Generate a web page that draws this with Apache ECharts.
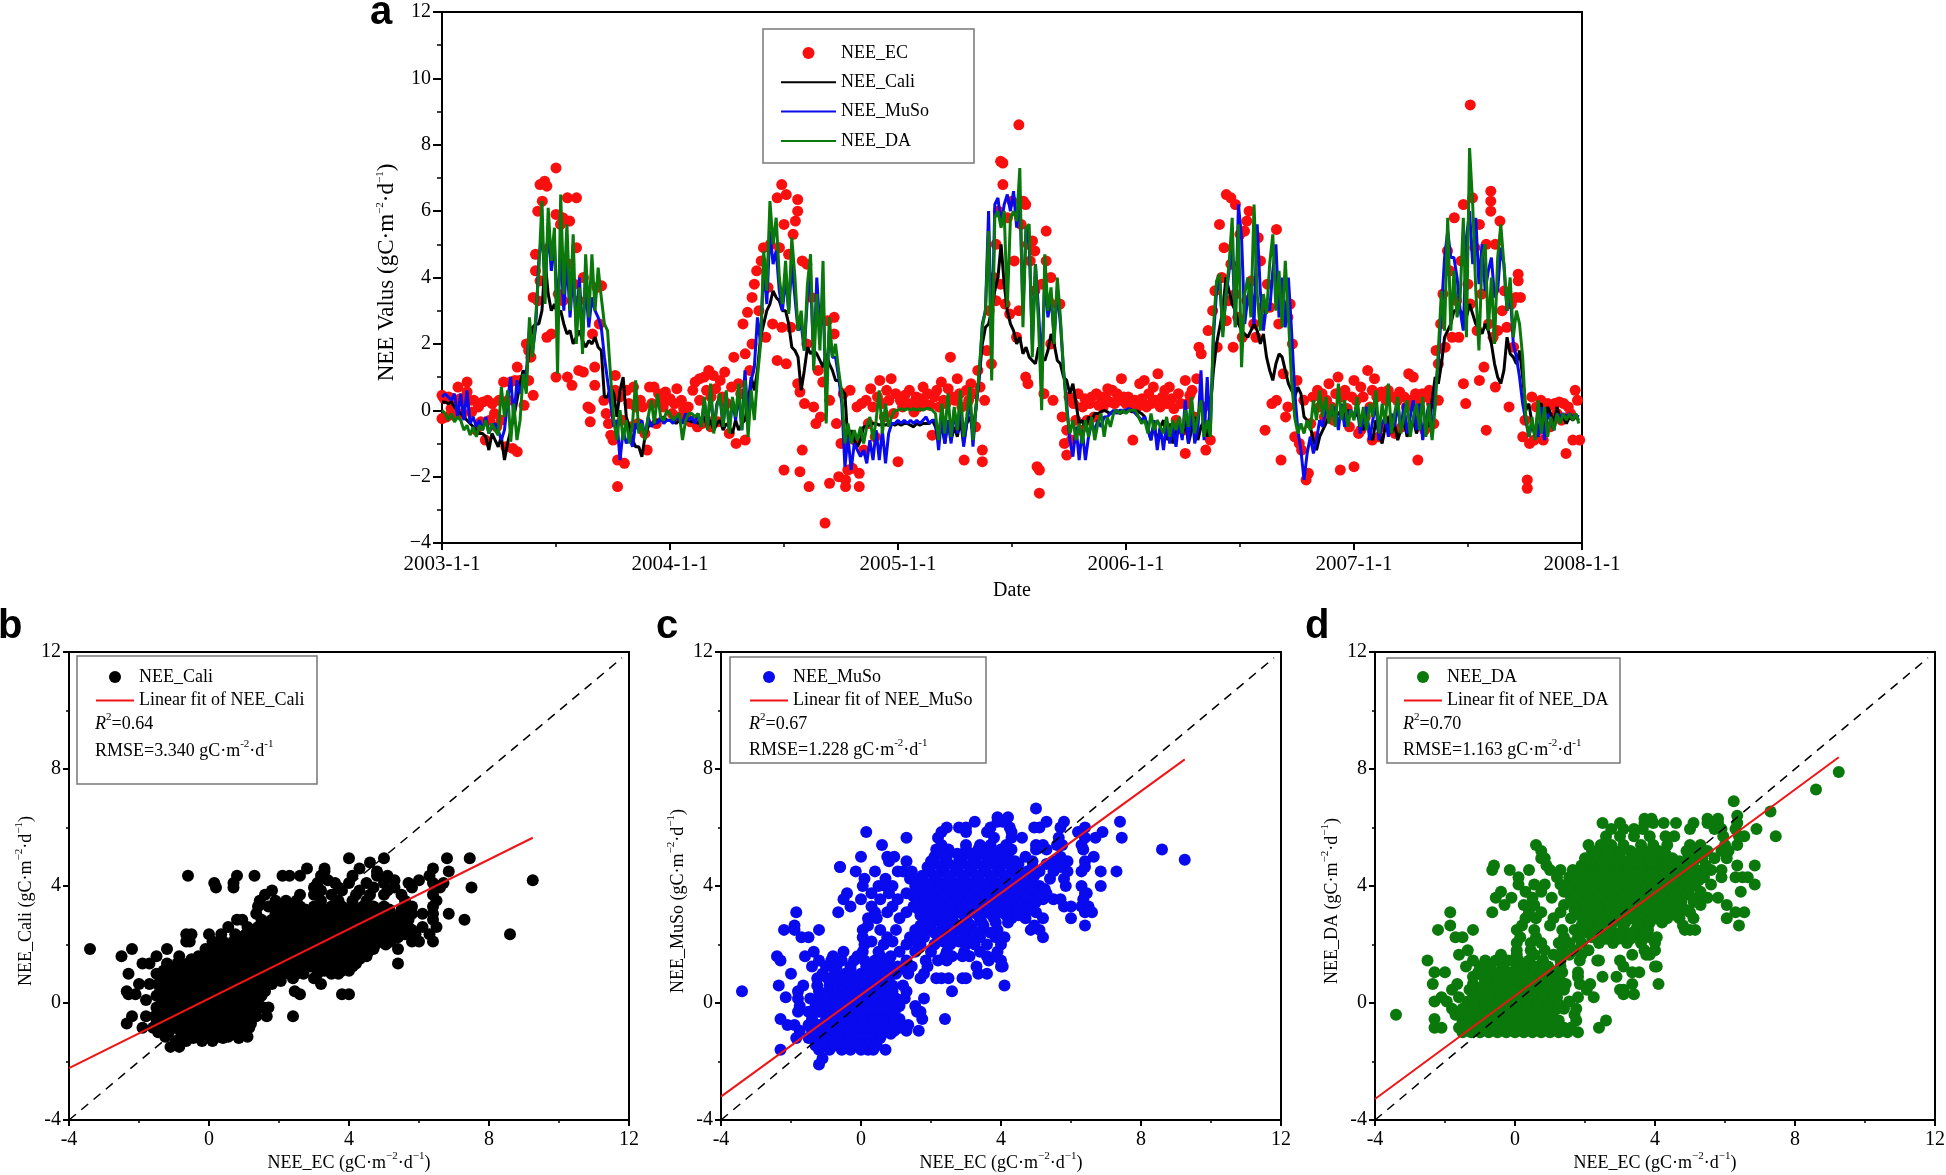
<!DOCTYPE html>
<html><head><meta charset="utf-8">
<script src="https://cdn.jsdelivr.net/npm/echarts@6/dist/echarts.min.js"></script>
<style>html,body{margin:0;background:#fff}#c{width:1946px;height:1175px}</style></head>
<body><div id="c"></div>
<script>
const years=[2003,2004,2005,2006,2007];
const yTicksA=[-4,-2,0,2,4,6,8,10,12];
// five-day readings per year
const cali2003=[.25,.25,.2,.25,.1,0,-.1,-.2,-.3,-.4,-.5,-.6,-.7,-.7,-.8,-1.2,-.7,-.9,-1.1,-.8,-1.5,-1,-.6,-.2,.3,.8,1.2,1,2,2.5,2.6,2.6,3,4.5,3.5,3,3.2,2.9,3,2.6,2.3,2.4,2,2.2,2.4,2.1,1.9,2.1,2,2.2,1.9,1.8,.4,.4,.7,.5,-.2,.6,1,-.2,-.5,-.9,-1.1,-1.1,-1.4,-.8,-.5,-.4,-.4,-.3,-.3,-.2,-.3];
const cali2004=[-.3,-.3,-.4,-.3,-.35,-.3,-.3,-.35,-.3,-.4,-.3,-.2,-.5,-.3,-.6,-.4,-.3,-.6,-.4,-.5,-.7,-.3,-.6,-.4,-.3,.2,1,.6,1.2,2.2,2.6,3,3.2,3.6,3.4,3.3,3,3,2.6,1.9,1.8,1.6,.6,1.2,1.9,1.7,1.8,1.7,1.5,1.3,1.7,1.4,1.2,.9,.9,.6,.5,-1,-.6,-.9,-1.1,-.9,-.5,-.5,-.4,-.4,-.4,-.45,-.4,-.45,-.4,-.4,-.45];
const cali2005=[-.4,-.45,-.4,-.4,-.45,-.5,-.4,-.45,-.4,-.4,-.4,-.3,-.5,-.9,-.4,-1,-.3,-.9,-.5,-.8,-.3,-1,-.4,-.2,-.6,.1,1,2,2.5,2.6,3,3.6,4,5,3.8,3,2.6,2.4,2,2.2,1.7,1.9,1.6,1.5,1.4,1.9,1.6,1.5,1.8,2.3,2,1.5,1.4,1,.9,.5,.8,.2,-.4,-.3,-.6,-.2,-.3,-.1,-.1,-.05,0,-.05,-.1,-.05,0,-.1,-.05];
const cali2006=[-.05,0,-.05,0,-.05,-.1,-.2,-.5,-.9,-.4,-1,-.5,-.3,-.9,-.4,-1,-.6,-.4,-.8,-.3,-1,-.6,-.2,-.9,-.5,-.3,-.8,.1,1.2,2,2.5,3,4,3.6,3.2,3,2.6,2.4,2.3,2.2,2.4,2.6,2.4,2,2.3,1.6,1.2,.9,1.4,1.7,1.6,1.2,.8,.6,.4,.7,.5,-.2,-.3,-.5,-.9,-1.2,-.8,-.6,-.4,-.2,-.1,-.2,-.1,0,-.2,0,-.1];
const cali2007=[-.2,-.1,-.4,-.6,-.2,-.7,-.9,-.3,-.7,-1,-.5,-.2,-.7,-.4,-.9,-.6,-.3,-.8,-.5,-.3,-.7,-.4,-.6,-.3,-.5,.3,1,.8,1.4,2.2,2.4,2.6,3,3,3,2.9,2.8,3.2,2.9,2.6,2.5,2.3,2.6,2.4,2,1.4,1,.8,1.2,2.2,1.7,1.6,1.4,1.8,1,0,.2,-.4,-.8,.1,.2,-.6,.1,-.1,-.4,.1,-.3,-.2,-.4,-.2,-.3,-.2,-.3];
const muso2003=[.4,.5,.4,.3,.5,-.2,.5,-.3,.6,-.4,-.2,-.5,-.3,-.6,-.2,-.7,-.5,-.4,-.6,-.9,-.6,.3,1,-.3,.9,.5,.9,1.1,2.5,1.8,2.5,4.5,5.4,3.8,5.5,4.2,5,3,4.8,3,4.6,2.8,4.2,2.5,4,2.2,3.8,2.5,3.4,3,2.8,2.5,1.6,.9,.2,-.5,-.3,-1.5,-.6,-1,-.8,-1.1,-.4,-.6,-.3,-.8,-.2,-.5,-.3,-.4,-.2,-.4,-.3];
const muso2004=[-.3,-.4,-.2,-.3,-.4,-.1,-.3,-.2,-.4,-.1,-.5,.3,-.5,.6,-.6,.2,.4,-.5,.5,-.6,.3,-.3,.5,-.6,1.2,-.3,.9,1.3,2.8,2,4.4,3.2,5.4,4.4,4.8,3.6,3,4,3,4.4,3.4,2.4,2.6,1.8,3.4,4.1,1.4,4,2.4,3.2,.5,2.4,1.6,1.6,1,.2,-1.7,-.8,-1.8,-1,-1.2,-1.4,-1.2,-1.6,-.9,-1.5,-.6,-1.5,-.6,-1.6,-.7,-.4,-.4];
const muso2005=[-.3,-.4,-.3,-.4,-.3,-.4,-.3,-.4,-.3,-.2,-.4,-.3,-.3,-1.2,-.2,-1,-.3,-1,0,-.7,.3,-1.1,-.4,.4,-1.1,.1,1,2.6,3,6,2,6.2,6.4,5.6,6.2,6.5,6,6.6,5.5,6.5,3,5.5,5,2,4.4,3,1.2,4,2.8,3.4,2.2,3.6,2.6,1.2,.2,-.9,-1.4,-.5,-1.5,-.6,-1.5,-.8,-.4,-.6,-.3,-.5,-.2,-.2,-.1,0,-.1,0,0];
const muso2006=[0,.05,0,-.1,-.2,-.3,-.2,-.6,-.9,-.3,-1.2,-.5,-1.2,-.4,-1,-.5,-1.1,-.3,-.9,.3,-1,.2,-1,-.6,1.2,-.9,1,-.6,2.2,3.6,3.9,2.4,3.4,4.2,5,2.5,6.2,5.2,2.6,3.4,3.8,2.6,5.6,3.6,2.4,3.2,3,4.2,5,2.8,4,2.5,4,2.4,.6,-.6,-1.2,-2.1,-1.3,-.8,-1.3,-.9,-.3,-.5,.1,-.2,-.1,.1,-.6,.2,-.5,-.1,0];
const muso2007=[-.2,.2,-.7,-.2,.1,-.9,-.3,.2,-.9,-.4,-.2,-.8,-.1,-.5,.2,-.6,.2,-.7,-.2,.3,-.6,.2,-.9,-.3,.2,-.8,.5,1.5,3,4.6,5.4,4.6,4.6,4,3,2.4,5.2,6,4.4,5.8,3.8,5,3.6,4.2,4.6,3.4,3.6,4.9,4.4,3,3.6,2,1.6,1,.2,-.3,-.8,-.4,-.6,-.8,.1,-.9,-.1,-.3,-.6,-.1,-.2,-.1,-.2,-.1,-.2,-.15,-.2];
const da2003=[0,-.1,-.3,-.1,-.35,-.2,-.3,-.6,-.45,-.75,-.5,-.8,-.45,-.6,-.3,-.7,-.4,-.6,-.75,.7,-.2,.6,-.95,.2,-.9,-.3,1.1,.5,2.8,1.6,2.8,4.2,6.3,3.2,6.1,4.5,5.5,1.1,6.5,3.5,5.6,3,5.3,2,3.7,1.7,4.7,2.8,4.7,3,4.3,3.4,2.6,2.4,1,-.3,-.9,0,-.9,-.3,-1,-.4,.9,-.7,-.4,-.9,-.2,.3,-.4,.5,-.2,-.3,0];
const da2004=[-.1,-.3,-.2,-.1,-.9,-.3,-.1,-.1,-.2,-.1,-.5,.4,-.6,.8,-.7,.1,.5,-.5,.6,-.7,.4,-.2,.8,-.6,.9,-.8,.6,-.3,1,2,4.8,3.6,6.3,5,5.8,4,3.2,4.5,2.9,5.2,4,2.4,3,1.8,3.8,4.7,1.2,3.5,1.8,4.5,-.4,2.8,1.6,2,1.2,.5,-1,-.4,-1,-.6,-.9,-.5,-1,-.5,-.2,-.9,-.3,.6,-.7,.2,-.5,-.2,0];
const da2005=[0,.05,0,.05,0,.05,0,.05,0,.05,.05,0,-.1,-.9,.2,-.7,.5,-.8,.1,-.6,.6,-.8,-.2,.7,-.9,.1,1.2,2.5,3,5.4,.9,5.8,6,5.5,6,3.1,5.8,6,5.7,7.3,2.5,5.5,5.6,1.6,4.4,2.6,0,4.7,3,3.7,2,4,2.8,1.2,0,-.7,-.3,-.9,-.4,-1,-.3,-.8,-.2,-.9,-.4,-.1,-.8,-.2,-.5,-.1,0,-.1,0];
const da2006=[-.1,0,0,0,-.2,-.4,-.3,-.7,-.1,-.6,-.3,-.5,-.7,-.2,-.8,-.3,-.6,-.2,-.7,0,-.5,.4,-.7,-.2,.3,-.8,-.3,-.8,2.5,3.9,4.1,2.2,3.5,4.4,5.8,2.5,5.6,1.3,3.5,4,2.8,6.2,3.5,2.4,3.5,2.9,4.4,5.3,3,4.2,2.5,4.5,2.8,.9,-.2,-.7,-.4,-.7,-.3,-.6,.3,-.3,.6,-.2,.4,-.4,.2,-.5,.8,-.3,.3,-.5,0];
const da2007=[-.3,.4,-.5,.1,-.6,.2,-.2,.6,-.7,.2,-.4,.8,-.7,-.1,.4,-.7,-.2,.3,-.8,-.2,.2,-.6,.4,-.8,.2,-.9,.1,1.8,3.6,2.4,5.8,2.4,4.2,2.8,3.4,5.8,2.2,7.9,6.2,3.6,1.8,4.6,5,2.4,4,2,4.6,5.6,4.4,3,4,2.2,3,2.6,1.6,-.2,-.8,-.2,-.9,.3,-.7,.1,-.8,-.2,-.6,-.1,-.4,-.1,-.3,-.1,-.3,-.1,-.4];
// [percent of year, NEE_EC]
const ec2003=[[0,.45],[0,-.25],[1,.35],[2,-.2],[3,.4],[4,.05],[5,-.15],[6,.3],[7,.7],[8,.35],[9,-.1],[10,.25],[11,.55],[11,.85],[12,.3],[13,-.05],[14,.3],[15,-.6],[16,.1],[17,-.35],[18,.25],[19,-.9],[20,.3],[21,-.3],[22,.2],[23,-.1],[24,-.5],[25,.3],[26,-.3],[27,.85],[28,-1.1],[29,.3],[30,.85],[31,-1.15],[32,.9],[33,1.3],[33,-1.25],[34,.9],[36,.15],[37,2],[38,1.8],[38,.9],[39,1.6],[40,.45],[40,3.4],[41,4.7],[41,4.2],[42,6],[42,3.3],[43,6.8],[43,3.9],[44,6.3],[45,6.9],[46,6.75],[46,2.2],[47,4.9],[48,2.3],[50,7.3],[50,5.9],[50,1],[51,3.5],[52,5.6],[53,5.8],[53,3.3],[55,6.4],[55,1],[56,5.7],[56,4.4],[57,.75],[58,3.8],[59,6.4],[59,4.9],[60,1.2],[60,3.3],[62,1.15],[62,4],[64,.1],[65,-.35],[65,.05],[66,2.3],[67,.75],[67,1.3],[68,3.7],[69,2.6],[70,3.75],[71,.3],[72,-.1],[73,-.4],[74,-.75],[75,-.9],[76,1.05],[76,.6],[77,-1.5],[77,-2.3],[78,.4],[79,-.3],[80,-1.6],[81,.6],[82,.2],[83,-.5],[84,.7],[85,.1],[86,-.4],[87,.3],[88,.1],[89,-.7],[90,-1.2],[91,.7],[92,.2],[93,.7],[94,-.4],[95,.5],[96,.3],[97,.1],[98,.55],[99,.3]];
const ec2004=[[0,.35],[1,-.1],[2,.2],[3,.65],[4,-.2],[5,.3],[6,.05],[7,-.2],[8,.1],[9,-.35],[10,.6],[11,.85],[12,-.5],[13,.95],[13,.3],[14,-.4],[15,1],[16,.6],[16,-.3],[17,1.2],[18,.4],[18,-.5],[19,1.05],[20,.65],[21,-.35],[22,.9],[23,.4],[24,1.15],[25,.2],[26,-.7],[27,.7],[28,1.6],[29,-1],[30,.8],[31,.5],[32,2.6],[33,1.7],[33,-.9],[34,2.95],[35,1.2],[36,3.4],[36,2],[37,3.8],[38,4.2],[39,3],[40,4.5],[41,4.9],[42,2.2],[43,3.7],[44,5],[45,2.6],[47,6.4],[47,1.5],[48,4.9],[49,6.8],[49,2.5],[50,5.6],[50,-1.8],[51,6.5],[51,1.4],[52,4.7],[53,2.5],[54,5.3],[55,5.7],[56,6.35],[56,6],[56,.8],[57,.55],[57,-1.85],[58,4.5],[58,-1.2],[59,.2],[60,4.4],[60,2],[61,-2.3],[62,3.4],[63,.1],[64,-.4],[65,1.2],[66,-.2],[67,.85],[68,-3.4],[69,2.7],[70,-2.2],[70,.3],[72,2.8],[72,2.3],[73,-.4],[74,-2],[75,-1],[76,.5],[77,-2.3],[77,-2.1],[78,-1.8],[79,.6],[80,-1.75],[81,-.9],[82,.1],[83,-2.3],[83,-1.9],[84,.2],[85,-1.2],[86,.3],[87,-.4],[88,.65],[89,.1],[90,-.8],[91,.4],[92,.9],[93,.2],[94,-.2],[95,.6],[96,.3],[97,.95],[98,-.1],[99,.5]];
const ec2005=[[0,-1.55],[1,.3],[2,.1],[3,.45],[4,.2],[5,.6],[6,.2],[7,-.05],[8,.4],[9,.1],[10,.35],[11,.7],[12,.2],[13,.5],[14,.15],[15,-.75],[16,.4],[17,.6],[18,.1],[19,.85],[20,.3],[21,.2],[22,.65],[23,1.6],[24,.4],[25,.3],[26,.95],[27,.5],[28,.1],[29,-1.5],[30,.6],[31,.3],[32,.8],[33,.5],[34,-.5],[35,1.2],[36,.7],[37,-1.2],[37,-1.55],[38,.3],[39,1.8],[40,3],[41,1.4],[42,4],[43,5],[43,3.3],[44,6],[45,7.5],[45,3.8],[46,7.45],[46,6.8],[47,3.2],[48,5.8],[49,2.9],[50,6.3],[51,4.5],[52,2.2],[53,8.6],[53,3],[54,5.6],[55,6.3],[56,6.2],[56,1],[57,.8],[57,5],[58,4.5],[59,5.1],[60,4.8],[60,3.6],[61,-1.7],[62,-1.8],[62,-2.5],[63,3.8],[64,.5],[65,5.4],[65,4.5],[66,3.3],[67,4],[67,2],[68,.3],[70,3.2],[71,3.2],[72,-.2],[73,-1],[74,-1.35],[74,-.6],[75,.4],[76,-.9],[77,.2],[78,-.3],[79,.5],[80,-.6],[81,.1],[82,.35],[83,-.3],[84,.2],[85,.4],[86,-.2],[87,.5],[88,.15],[89,.4],[90,.1],[91,.4],[92,.65],[93,.25],[94,.6],[95,.2],[96,.5],[97,.3],[98,.95],[99,.4]];
const ec2006=[[0,.2],[1,.4],[2,.1],[3,-.9],[4,.3],[5,.1],[6,.8],[7,.35],[8,.9],[9,.1],[10,.5],[11,.2],[12,.7],[13,.3],[14,1.1],[15,.1],[16,.4],[17,.6],[18,.2],[19,.7],[20,.35],[21,.05],[22,-.3],[23,.5],[24,.2],[25,-.6],[26,.9],[26,-1.3],[27,.2],[28,.45],[29,.6],[30,-.2],[31,.95],[32,1.9],[33,1.7],[34,.1],[35,-1.2],[36,2.4],[37,-.9],[38,3],[39,3.6],[40,1.9],[41,5.6],[42,4],[43,4.9],[44,6.5],[44,2.7],[45,3.3],[46,6.4],[46,4.4],[47,1.9],[48,6.2],[48,3.5],[49,2.8],[50,5.3],[51,2.2],[52,5.4],[53,5.7],[53,3.3],[54,6],[55,3.9],[56,2.6],[57,2.2],[58,5.2],[59,4.5],[60,3.1],[61,-.6],[62,3.8],[63,3.1],[64,.2],[66,5.45],[66,.3],[67,2.6],[68,-1.5],[69,1.1],[70,-.2],[71,2.8],[71,.1],[72,3.2],[73,2],[74,-.8],[75,.9],[76,-1],[77,-1.2],[78,.3],[79,-2.1],[80,-1.9],[81,-.4],[82,.4],[83,-.8],[84,.6],[85,.1],[86,.5],[87,-.2],[88,.3],[89,.8],[90,.1],[91,-.3],[92,.5],[93,1],[94,-1.8],[95,.4],[96,.6],[97,.05],[98,-.5],[99,.4]];
const ec2007=[[0,-1.7],[0,.9],[1,.3],[2,-.7],[3,.7],[3,-.6],[4,.4],[5,-.2],[6,1.2],[7,.1],[8,.6],[8,-.9],[9,.95],[10,.4],[11,-.8],[12,.55],[13,-.5],[14,.3],[15,.6],[16,-.3],[17,.4],[18,-.7],[19,.3],[20,.55],[21,-.5],[22,.4],[23,.1],[24,1.1],[25,.3],[26,1],[27,.5],[28,-1.5],[29,.3],[30,.5],[31,-.6],[32,.4],[33,.6],[34,.2],[35,-.4],[36,1.8],[37,1.4],[37,.3],[38,2.6],[39,3.5],[40,1.9],[41,4.8],[42,4.2],[43,2.2],[44,5.8],[45,3.3],[46,2.2],[47,4.5],[48,6.2],[48,.8],[49,.2],[50,3.8],[51,9.2],[51,3.2],[52,6.4],[53,4.9],[54,2.4],[55,5.6],[55,.9],[56,3.5],[57,1.3],[58,5],[58,-.6],[59,2.6],[60,6.6],[60,6.3],[60,6],[61,2.2],[62,5],[62,.7],[63,2.4],[64,5.7],[65,3],[66,3.6],[67,2.5],[68,.1],[69,3.2],[70,1.9],[71,3.4],[72,4.1],[72,3.9],[73,3.4],[74,-.8],[75,-.3],[76,-2.1],[76,-2.35],[77,-1],[78,.4],[79,-.9],[80,.1],[81,-.6],[82,.3],[83,-.9],[84,-.1],[85,.2],[86,-.5],[87,.15],[88,.2],[89,-.1],[90,.25],[91,-.3],[92,.2],[93,-1.3],[94,.1],[95,-.1],[96,-.9],[97,.6],[98,.3],[99,-.9]];

// scatter readings: [NEE model value, [NEE_EC values at that height]]
const caliRows=[[-1.5,[-1.1,-.85]],[-1.3,[-.95,-.65,-.2,.1]],[-1.2,[.4,.85,-.45]],[-1,[-1.45,-1.15,-.8,-.5,-.2,.1,.4,.7,1]],[-.85,[-1.9,-1.6]],[-.7,[-2.35,-1.5,-1.2,-.9,-.6,-.3,0,.3,.6,.9,1.2]],[-.45,[-2.2,-1.8,-1.55,-1.25,-.95,-.65,-.35,-.05,.25,.55,.85,1.1,1.35,1.65,2.4]],[-.15,[-1.5,-1.2,-.9,-.6,-.3,0,.3,.6,.9,1.2,1.55,1.7]],[.1,[-1.8,-1.35,-1.05,-.75,-.45,-.15,.15,.45,.75,1.05,1.4]],[.3,[-2.3,-2.1,2.6,3.8,4]],[.4,[-2.35,-1.4,-1.1,-.8,-.5,-.2,.1,.4,.7,1,1.3,1.6,2.45]],[.65,[-2,-1.7,-1.45,-1.15,-.85,-.55,-.25,.05,.35,.65,.95,1.25,1.5,1.8,3.2]],[.85,[-1.35,-1.05,-.75,-.45,-.15,.15,.45,.75,1.05,1.35,1.65,2.4,3]],[1,[-2.3,-1.5,2.3,2.7,3.5]],[1.1,[-1.3,-1,-.7,-.4,-.1,.2,.5,.8,1.1,1.4,1.7,2,2.3,2.6,3.3,3.8,4]],[1.35,[-1.9,-1.7,-1.2,-.9,-.6,-.3,0,.3,.6,.9,1.2,1.5,1.8,2.1,2.4,2.7,3,3.3,3.6,3.9,4.2,5.4]],[1.6,[-2.5,-1.5,-.85,-.3,0,.3,.6,.9,1.2,1.5,1.8,2.1,2.4,2.7,3,3.3,3.6,3.9,4.2,4.5]],[1.85,[-3.4,-2.2,-1.2,-.1,.2,.5,.8,1.1,1.4,1.7,2,2.3,2.6,2.9,3.2,3.5,3.8,4.1,4.4,4.7,5.4]],[2.1,[-.65,-.55,.1,.4,.7,1,1.3,1.6,1.9,2.2,2.5,2.8,3.1,3.4,3.7,4,4.3,4.6,4.9,5.2,5.8,6,6.4]],[2.35,[-.65,-.5,0,.35,.75,1.05,1.35,1.65,1.95,2.25,2.55,2.85,3.15,3.45,3.75,4.05,4.35,4.65,4.95,5.3,5.6,5.9,6.3,8.6]],[2.6,[.55,1.1,1.4,1.7,2,2.3,2.6,2.9,3.2,3.5,3.8,4.1,4.4,4.7,5,5.3,5.7,6.1,6.5]],[2.85,[.8,.95,1.5,1.8,2.1,2.4,2.7,3,3.3,3.6,3.9,4.2,4.5,4.8,5.1,5.4,5.7,6.4,7.3]],[3.05,[1.35,1.9,2.2,2.5,2.8,3.1,3.4,3.7,4,4.3,4.6,4.9,5.2,5.5,5.8,6.1,6.4,6.85]],[3.3,[1.4,1.7,1.95,2.3,2.6,3,3.5,3.8,4.1,4.4,4.7,5,5.6,5.8,6.4]],[3.5,[1.45,1.9,2.2,2.5,3.2,3.7,4.1,4.5,5.6,6.5]],[3.7,[1.6,2.6,3,3.5,4.2,4.6,5,5.5,6.4]],[3.85,[1.8,3.2,3.8,4.3,5.1]],[3.95,[.2,.7,3,3.7,4.7,5.3,5.8,6.6,7.5]],[4.1,[.15,.7,3.1,3.6,4,4.5,5,5.7,6.4,6.7]],[4.2,[9.25,3.4,5.3,6]],[4.35,[-.6,.8,1.3,2.1,2.3,2.6,3.2,4.1,4.8,5.1,6.3]],[4.5,[3.3,4.8,6.85]],[4.6,[2.8,3.3,4.3,6.4]],[4.8,[4.6]],[4.95,[4,5,6.8,7.45]]];
const caliExtra=[[-1.15,[-1.25,-.7,-.35,-.05,.25,.55,.85,1.1]],[-.85,[-1.3,-1,-.65,-.35,-.05,.25,.55,.85,1.15]],[-.55,[-1.35,-1.05,-.75,-.45,-.15,.15,.45,.75,1.05]],[-.3,[-1.35,-1.05,-.75,-.45,-.15,.15,.45,.75,1.05,1.3]],[0,[-1.3,-1,-.7,-.4,-.1,.2,.5,.8,1.1,1.35]],[.25,[-1.5,-1.2,-.9,-.6,-.3,0,.3,.6,.9,1.2,1.5]],[.55,[-1.25,-.95,-.65,-.35,-.05,.25,.55,.85,1.15,1.45]],[.75,[-1.15,-.85,-.55,-.25,.05,.35,.65,.95,1.25,1.55,2.05]],[1,[-1.15,-.85,-.55,-.25,.05,.35,.65,.95,1.25,1.55,1.85,2.15,2.5,3.1,3.7]],[1.25,[-1,-.7,-.4,-.1,.2,.5,.8,1.1,1.4,1.7,2,2.3,2.6,2.9,3.2,3.5,3.8,4.1]],[1.5,[-.5,-.2,.1,.4,.7,1,1.3,1.6,1.9,2.2,2.5,2.8,3.1,3.4,3.7,4,4.3]],[1.75,[.05,.35,.65,.95,1.25,1.55,1.85,2.15,2.45,2.75,3.05,3.35,3.65,3.95,4.25,4.55]],[2,[.25,.55,.85,1.15,1.45,1.75,2.05,2.35,2.65,2.95,3.25,3.55,3.85,4.15,4.45,4.75,5.05]],[2.25,[.9,1.2,1.5,1.8,2.1,2.4,2.7,3,3.3,3.6,3.9,4.2,4.5,4.8,5.1,5.4]],[2.5,[1.25,1.55,1.85,2.15,2.45,2.75,3.05,3.35,3.65,3.95,4.25,4.55,4.85,5.15,5.5,5.8]],[2.75,[1.65,1.95,2.25,2.55,2.85,3.15,3.45,3.75,4.05,4.35,4.65,4.95,5.25,5.55]],[2.95,[2.05,2.35,2.65,2.95,3.25,3.55,3.85,4.15,4.45,4.75,5.05,5.35,5.65]],[3.2,[2.15,2.45,2.75,3.3,3.6,3.9,4.2,4.55,4.85,5.15,5.5]]];
const musoRows=[[-2.1,[-1.2]],[-1.9,[-1.1]],[-1.6,[-2.3,-1.2,-.9,-.55,-.3,0,.2,.35,.7]],[-1.45,[-1.3,-1,-.75,-.45,-.15,.1,.45]],[-1.2,[-1.85,-1.5,-1.25,-.95,-.65,-.35,-.05,.25,.55]],[-.95,[-1.75,-1.4,-1.1,-.8,-.5,-.2,.1,.4,.7,.95,1.3,1.65]],[-.75,[-2.1,-1.9,-1.5,-1.2,-.9,-.6,-.3,0,.3,.6,.9,1.15,1.35]],[-.55,[-2.3,-1.4,-1,-.7,-.4,-.1,.2,.5,.8,1.1,1.75,2.4]],[-.3,[-1.8,-1.5,-1.2,-.9,-.6,-.3,0,.3,.6,.9,1.6,1.7]],[-.1,[-1.75,-1.3,-1,-.7,-.4,-.1,.2,.5,.8,1.1,1.55]],[.15,[-1.8,-1.45,-1.15,-.8,-.5,-.2,.1,.4,.7,1,1.25,1.8]],[.2,[-2.15]],[.4,[-3.4,-1.8,-1.2,-.9,-.6,-.3,0,.3,.6,.9,1.3,2.6]],[.6,[-2.35,-1.65,-1.25,-.9,-.55,-.2,.2,.55,.9,1.2,4.1]],[.85,[-1.25,-.95,-.6,-.2,.2,.5,.8,1.7,2.15,2.3,2.5,2.9,3]],[1,[-2,-1.1,-.75,-.45,0,.35,.65,1,1.35,1.8,3.35,3.6]],[1.25,[-1.4,-1,-.7,-.3,.15,.6,1.05,1.45,1.9,3.3,4,4.05]],[1.45,[-2.3,-1.2,-.85,-.55,-.2,.1,.4,.8,1.3,1.85,2.2,2.45,3.65,4]],[1.6,[-2.4,-1.6,-.8,-.1,.55,.85,2.4,2.6,2.9,3.1,3.6,3.85]],[1.75,[-1.35,-.5,.05,.5,1.1,1.55,2,2.45,2.95,3.4,3.9]],[2,[.1,.65,1.3,1.7,2.1,2.55,3,3.25,3.6,4]],[2.25,[-1.5,-1.7,.05,.75,1.4,1.8,2.2,2.6,3,3.4,3.85,4.1,5.2]],[2.5,[-2.2,-1.9,-1.2,.05,.55,1,1.55,1.9,2.3,2.7,3.1,3.5,3.9,4.85,5.1]],[2.65,[-1.9,.2,1.7,2,2.4,2.8,3.15,3.5,4.95,6.4]],[2.9,[.2,.45,1.1,1.9,2.2,2.6,3,3.4,3.8,4.3,4.7,5.2,6]],[3.1,[-1.85,-.65,.4,.75,1.3,2,2.4,2.8,3.2,3.6,4,4.35,4.7,5,6.4,6.6]],[3.3,[-.3,.3,.9,1.5,1.85,2.25,2.65,3.05,3.45,3.85,4.25,4.65,5.8,6,6.3,6.5]],[3.55,[-.5,0,.55,1.05,1.6,2,2.4,2.8,3.2,3.6,4,4.4,4.85,5.2,5.5,5.7,6.35]],[3.75,[-.4,.3,.8,1.3,1.75,2.15,2.55,2.95,3.35,3.75,4.15,4.55,4.95,5.3,6.4,6.45]],[4,[.05,.5,.7,.9,1.55,1.9,2.3,2.7,3.1,3.5,3.9,4.3,4.7,5.1,5.85,6.3,6.85]],[4.25,[.1,.7,1.4,1.7,2.1,2.5,2.9,3.3,3.7,4.1,4.5,4.9,5.4,5.8]],[4.5,[-.15,.4,1.05,1.2,1.45,1.95,2.35,2.75,3.15,3.55,3.95,4.35,4.75,5.1,5.5,5.9,6.3,6.85,7.3]],[4.65,[-.6,-.6,1.9,2.3,2.7,3.1,3.5,3.9,4.3,4.9,5.7,6.4]],[4.85,[.8,1.3,2,2.4,2.8,3.2,3.6,4,4.4,4.9,5.5,5.9,6.4]],[5,[0,.75,.95,2.1,2.45,2.9,3.3,3.8,4.2,4.7,5.7,6.65]],[5.25,[2.15,2.5,3,3.35,3.7,4,4.3,5,5.3,6.35,8.6]],[5.4,[.6,2.3,3,3.4,3.7,4.15,5,5.2,5.6,5.75,6.3]],[5.65,[1.3,2.2,3.8,4.3,4.6,5.65,6.4,6.7,7.45]],[5.85,[.15,2.3,3,3.6,4.3,6.2,6.9]],[6,[2.45,2.8,3,3.7,4.25,4.95,5.1,5.7,6.4]],[6.2,[3.25,3.9,4.05,5.3,5.8,7.4]],[6.35,[3.9,4.2]],[6.65,[5]],[4.9,[9.25]]];
const musoExtra=[[-1.35,[-1.1,-.6,-.2,.3]],[-1.05,[-1.2,-.65,-.35,-.05,.25,.6,.85]],[-.85,[-1.05,-.7,-.4,-.1,.2,.55,.8,1.1]],[-.6,[-.85,-.55,-.25,.05,.35,.65,.95]],[-.2,[-1.05,-.75,-.45,-.15,.15,.45,.75,1]],[.05,[-1.3,-.95,-.6,-.25,.05,.3,.6,.9]],[.3,[-.7,-.4,-.1,.25,.55,.85]],[.7,[-.8,-.4,0,.35,.75]],[1.15,[-.3,.3,.85,1.25]],[2.1,[.3,.9,1.55,2.35,2.8,3.2]],[2.4,[1.7,2.1,2.5,2.9,3.3,3.7]],[2.75,[2.3,2.65,3.05,3.45,3.85,4.2]],[3,[1.7,2.15,2.55,2.95,3.35,3.75,4.15,4.5]],[3.2,[1.65,2.1,2.5,2.9,3.3,3.7,4.1,4.5,4.85]],[3.45,[1.8,2.2,2.6,3,3.4,3.8,4.2,4.6,5]],[3.65,[1.5,1.95,2.35,2.75,3.15,3.55,3.95,4.35,4.75,5.1]],[3.9,[1.7,2.1,2.5,2.9,3.3,3.7,4.1,4.5,4.9,5.25]],[4.1,[1.9,2.3,2.7,3.1,3.5,3.9,4.3,4.7]],[4.35,[1.75,2.15,2.55,2.95,3.35,3.75,4.15,4.55,4.95]],[4.75,[2.1,2.5,2.9,3.3,3.7,4.1,4.5,5.3]],[5.1,[2.3,2.75,3.15,3.55,3.95]]];
const daRows=[[-1,[-1.5,-1.25,-1,-.75,-.5,-.25,0,.25,.5,.75,1,1.25,1.5,1.8]],[-.85,[-2.3,-2.1,-1.6,-1.35,-1.1,-.85,-.6,-.35,-.1,.15,.4,.65,.9,1.15,1.4,1.6,2.4]],[-.6,[-1.5,-1.2,-.9,-.6,-.3,0,.3,.6,.9,1.25,1.75,2.6]],[-.55,[-2.3]],[-.4,[-3.4,-1.7,-1.4,-1.1,-.8,-.5,-.2,.1,.4,.7,1,1.7]],[-.2,[-1.8,-1.5,-1.2,-.9,-.6,-.3,0,.3,.6,.9,1.2,1.4,1.75]],[.05,[-2.3,-1.95,-1.35,-1.05,-.75,-.45,-.15,.15,.45,.75,1.05,1.55]],[.2,[-2.1,-1.6,-1.2,-.9,-.6,-.3,0,.3,.6,.9,1.2,1.8,2.25]],[.3,[3.1,3.4]],[.45,[-1.8,-1.3,-1,-.7,-.4,-.1,.2,.5,.8,1.1,1.4,2.05,3,3.1]],[.65,[-2.35,-1.65,-1.2,-.85,-.55,-.25,.05,.35,.65,.95,1.25,1.45,1.85,2.15,3.35,4.1]],[.9,[-1.2,-.9,-.6,-.3,0,.3,.6,.9,1.25,1.8,2.5,2.9]],[1.05,[-2.3,-2,-1.05,-.75,-.45,-.15,.15,.45,.75,1.05,1.35,1.8,3.35,3.55]],[1.25,[-1.4,-1,-.7,-.35,.05,.35,.65,.95,1.3,3.1,4,4.05]],[1.45,[-2.5,-1.2,-.85,-.55,-.2,.1,.4,.8,1.3,1.85,2.35,2.4,3]],[1.65,[-1.6,-.4,.05,.55,1.1,1.55,1.9,3.35,3.75,3.85]],[1.8,[-1.35,.05,.45,.85,1.35,1.7,2.1,3.7,4]],[2.05,[.05,.45,.75,1.25,1.55,1.9,2.4,2.8,3.2,3.6,4]],[2.25,[-1.5,-1.7,.15,.6,1.4,1.8,2.2,2.5,2.85,3.2,3.55,3.85,4.05]],[2.5,[-2.2,-1.2,.05,.55,1.35,1.7,2.05,2.4,2.75,3.1,3.45,3.8,4.85,5,5.15]],[2.65,[-1.85,.2,1,1.9,2.3,2.7,3.1,3.5,3.8,4.8,6.4]],[2.9,[.3,.6,1.1,1.6,1.95,2.3,2.65,3,3.35,3.7,4,4.35,4.7,5.1,6.05]],[3.1,[-1.85,-.65,.4,.75,1.3,1.9,2.25,2.6,2.95,3.3,3.65,4,4.35,4.7,5,6.3,6.55]],[3.35,[-.3,.25,.55,1.4,1.75,2.1,2.45,2.8,3.15,3.5,3.85,4.2,4.55,5.3,6.05]],[3.6,[-.55,-.1,.5,1.05,1.6,1.95,2.3,2.65,3,3.35,3.7,4.05,4.4,4.75,5.2,5.5,5.8]],[3.8,[-.4,.3,.75,1.4,1.8,2.15,2.5,2.85,3.2,3.55,3.9,4.25,4.6,4.95,5.3,6.45]],[4.05,[.1,.55,.85,1.3,1.65,2,2.35,2.7,3.05,3.4,3.75,4.1,4.45,4.8,5.15,5.6,6.85]],[4.3,[.1,1.2,1.55,1.9,2.25,2.6,2.95,3.3,3.65,4,4.35,4.7,5.05,5.4,5.9,6.3,6.5,6.65]],[4.55,[-.65,-.15,.4,1,1.3,1.65,2,2.35,2.7,3.05,3.4,3.75,4.1,4.45,4.8,5.2,5.6,5.9]],[4.7,[-.6,.9,1.9,2.2,2.55,2.9,3.25,3.6,3.95,4.3,4.65,5,5.45,6.35,6.85]],[4.95,[.75,.85,2,2.3,2.65,3,3.35,3.7,4.1,4.5,4.95,5.35,5.7,6.05]],[5.2,[.75,2.2,2.5,2.85,3.3,3.7,4.1,4.9,5.2,5.5,5.9,6.1]],[5.4,[.6,2.1,2.45,2.75,3.1,3.6,3.95,4.35,5,5.3,6,6.35]],[5.7,[2.6,3,3.4,3.85,4.3,4.55,5.95,6.4,6.55,7.45]],[5.95,[2.75,3.1,3.4,3.65,5,5.7,5.9,6.3,6.9]],[6.15,[2.5,3,3.7,3.95,4.25,4.6,5.1,5.5,5.8,6.35]],[6.3,[3.7,3.9,5.5,5.8]],[6.4,[6.35]],[6.55,[7.3]],[6.9,[6.25]],[7.3,[8.6]],[7.9,[9.25]]];
const daExtra=[[-.75,[-1.3,-1.05,-.8,-.55,-.3,-.05,.2,.45,.7,.95,1.2]],[-.5,[-1.3,-1,-.7,-.45,-.15,.15,.45,.75,1.1]],[-.3,[-1.25,-.95,-.65,-.35,-.05,.25,.55,.85]],[-.05,[-1.15,-.85,-.55,-.25,.05,.35,.65,.95,1.25]],[.3,[-1,-.7,-.4,-.1,.2,.5,.8,1.1]],[.55,[-.95,-.6,-.3,0,.3,.6,.9,1.2]],[.75,[-.85,-.5,-.15,.15,.45,.75,1.05,1.3]],[1,[-.4,0,.4,.75,1.15]],[1.25,[.25,.55,.85]],[2.2,[2.6,2.95,3.3,3.65]],[2.4,[1.95,2.3,2.65,3,3.35,3.7]],[2.75,[2.1,2.45,2.8,3.15,3.5,3.85,4.2]],[3,[1.85,2.2,2.55,2.9,3.25,3.6,3.95,4.3,4.6]],[3.2,[1.7,2.05,2.4,2.75,3.1,3.45,3.8,4.15,4.5,4.85]],[3.45,[1.6,1.95,2.3,2.65,3,3.35,3.7,4.05,4.4,4.75,5.1]],[3.7,[1.75,2.1,2.45,2.8,3.15,3.5,3.85,4.2,4.55,4.9]],[3.95,[1.5,1.85,2.2,2.55,2.9,3.25,3.6,3.95,4.3,4.65,5]],[4.2,[1.75,2.1,2.45,2.8,3.15,3.5,3.85,4.2,4.55,4.9,5.25]],[4.45,[1.85,2.2,2.55,2.9,3.25,3.6,3.95,4.3,4.65,5,5.4]],[4.85,[2.15,2.5,2.85,3.2,3.55,3.9,4.25,4.7,5.1]],[5.1,[2.3,2.65,3,3.45,3.85,4.3]]];
// fitted and 1:1 lines
const caliFit=[[-4,-2.23],[9.25,5.65]];
const musoFit=[[-4,-3.2],[9.25,8.33]];
const daFit=[[-4,-3.28],[9.25,8.4]];
const oneToOne=[[-4,-4],[11.8,11.8]];

const join=(list)=>list.flatMap((a,k)=>a.map((v,i)=>[years[k]+i/a.length,v]));
const ecAll=[ec2003,ec2004,ec2005,ec2006,ec2007].flatMap((a,k)=>a.map(p=>[years[k]+p[0]/100,p[1]]));
const rowsToPts=(rows)=>rows.flatMap(r=>r[1].map(x=>[x,r[0]]));

const F='"Liberation Serif","Times New Roman",serif';
const rich={n:{fontFamily:F,fontSize:18,lineHeight:24,color:'#000',verticalAlign:'middle'},
  s:{fontFamily:F,fontSize:11,lineHeight:13,color:'#000',verticalAlign:'top'},
  i:{fontFamily:F,fontSize:18,lineHeight:24,color:'#000',fontStyle:'italic',verticalAlign:'middle'}};
const unit='{n|gC·m}{s|−2}{n|·d}{s|−1}{n|)}';
const panelAxisBase=(gi)=>({gridIndex:gi,type:'value',min:-4,max:12,interval:4,splitLine:{show:false},
  axisLine:{onZero:false,lineStyle:{color:'#000',width:2}},axisTick:{length:6,lineStyle:{color:'#000',width:2}},
  minorTick:{show:true,splitNumber:2,length:3,lineStyle:{color:'#000',width:1.5}},
  axisLabel:{color:'#000',fontFamily:F,fontSize:20,margin:8,showMinLabel:true,showMaxLabel:true}});
const grids=[{left:442,top:12,width:1140,height:531},{left:69,top:652,width:560,height:468},{left:721,top:652,width:560,height:468},{left:1375,top:652,width:560,height:468}]
  .map(g=>({...g,show:true,borderColor:'#000',borderWidth:2,backgroundColor:'#fff',containLabel:false,outerBoundsMode:'none'}));
const panelNames=['NEE_Cali','NEE_MuSo','NEE_DA'];
const xAxes=[{gridIndex:0,type:'value',min:2003,max:2008,interval:1,splitLine:{show:false},
  name:'Date',nameLocation:'middle',nameGap:38,nameMoveOverlap:false,nameTextStyle:{fontFamily:F,fontSize:20,color:'#000'},
  axisLine:{onZero:false,lineStyle:{color:'#000',width:2}},axisTick:{length:7,lineStyle:{color:'#000',width:2}},
  minorTick:{show:true,splitNumber:2,length:4,lineStyle:{color:'#000',width:1.5}},
  axisLabel:{color:'#000',fontFamily:F,fontSize:21,margin:11,formatter:v=>v+'-1-1'}}];
const yAxes=[{gridIndex:0,type:'value',min:yTicksA[0],max:yTicksA[yTicksA.length-1],interval:2,splitLine:{show:false},
  name:'{n|NEE Valus (}'+unit,nameLocation:'middle',nameGap:43,nameMoveOverlap:false,nameRotate:90,nameTextStyle:{rich:{...rich,n:{...rich.n,fontSize:23}},padding:[0,0,0,10]},
  axisLine:{onZero:false,lineStyle:{color:'#000',width:2}},axisTick:{length:9,lineStyle:{color:'#000',width:2}},
  minorTick:{show:true,splitNumber:2,length:5,lineStyle:{color:'#000',width:1.5}},
  axisLabel:{color:'#000',fontFamily:F,fontSize:20,margin:11,formatter:v=>String(v).replace('-','−')}}];
panelNames.forEach((n,k)=>{
  xAxes.push({...panelAxisBase(k+1),axisLabel:{...panelAxisBase(k+1).axisLabel,margin:10},name:'{n|NEE_EC (}'+unit,nameLocation:'middle',nameGap:31,nameMoveOverlap:false,nameTextStyle:{rich}});
  yAxes.push({...panelAxisBase(k+1),name:'{n|'+n+' (}'+unit,nameLocation:'middle',nameGap:31,nameMoveOverlap:false,nameRotate:90,nameTextStyle:{rich,padding:[0,30,0,0]}});
});
const lineS=(name,list,color)=>({name,type:'line',xAxisIndex:0,yAxisIndex:0,data:join(list),showSymbol:false,symbol:'none',lineStyle:{color,width:3},itemStyle:{color},z:3,silent:true});
const series=[
 {name:'NEE_EC',type:'scatter',xAxisIndex:0,yAxisIndex:0,data:ecAll,symbolSize:11,itemStyle:{color:'#fa0f0f',opacity:1},z:2},
 lineS('NEE_Cali',[cali2003,cali2004,cali2005,cali2006,cali2007],'#000000'),
 lineS('NEE_MuSo',[muso2003,muso2004,muso2005,muso2006,muso2007],'#0a0aee'),
 lineS('NEE_DA',[da2003,da2004,da2005,da2006,da2007],'#0a780a')
];
const panelData=[[caliRows,caliExtra,caliFit,'#000000'],[musoRows,musoExtra,musoFit,'#0a0aee'],[daRows,daExtra,daFit,'#0a780a']];
panelData.forEach((p,k)=>{
 const idx=k+1;
 series.push({name:panelNames[k]+' ',type:'scatter',xAxisIndex:idx,yAxisIndex:idx,data:rowsToPts(p[0]).concat(rowsToPts(p[1])),symbolSize:12,itemStyle:{color:p[3],opacity:1},z:2});
 series.push({name:'1:1 '+panelNames[k],type:'line',xAxisIndex:idx,yAxisIndex:idx,data:oneToOne,symbol:'none',lineStyle:{color:'#000',width:1.5,type:[9,7]},z:3});
 series.push({name:'Linear fit of '+panelNames[k],type:'line',xAxisIndex:idx,yAxisIndex:idx,data:p[2],symbol:'none',lineStyle:{color:'#f01414',width:2},itemStyle:{color:'#f01414'},z:4});
});
const legendText={color:'#000',fontFamily:F,fontSize:18};
const lineItem=(name)=>({name,itemStyle:{opacity:0}});
const legends=[{left:780,top:44,orient:'vertical',itemWidth:55,itemHeight:12,itemGap:11.3,padding:0,selectedMode:false,textStyle:legendText,data:['NEE_EC',lineItem('NEE_Cali'),lineItem('NEE_MuSo'),lineItem('NEE_DA')],z:6}];
[[95,0],[749,1],[1403,2]].forEach(([x,k])=>legends.push({left:x,top:668,orient:'vertical',itemWidth:38,itemHeight:12,itemGap:5.5,padding:0,selectedMode:false,textStyle:legendText,data:[panelNames[k]+' ',lineItem('Linear fit of '+panelNames[k])],z:6}));
const box=(x,y,w,h)=>({type:'rect',shape:{x,y,width:w,height:h},style:{fill:'#fff',stroke:'#777',lineWidth:1.5},z:5});
const letter=(t,x,y)=>({type:'text',x,y,style:{text:t,font:'bold 40px "Liberation Sans",Arial,sans-serif',fill:'#000',textAlign:'left',verticalAlign:'top'},z:6});
const note=(t,x,y)=>({type:'text',x,y,style:{text:t,rich:{n:rich.n,s:rich.s,i:rich.i},verticalAlign:'middle'},z:6});
const graphics=[box(763,29,211,134),box(77,656,240,128),box(730,657,256,106),box(1387,658,233,105),
 letter('a',370,-7),letter('b',-2,607),letter('c',656,607),letter('d',1305,607),
 note('{i|R}{s|2}{n|=0.64}',95,724),note('{n|RMSE=3.340 gC·m}{s|-2}{n|·d}{s|-1}',95,751),
 note('{i|R}{s|2}{n|=0.67}',749,724),note('{n|RMSE=1.228 gC·m}{s|-2}{n|·d}{s|-1}',749,750),
 note('{i|R}{s|2}{n|=0.70}',1403,724),note('{n|RMSE=1.163 gC·m}{s|-2}{n|·d}{s|-1}',1403,750)];
const chart=echarts.init(document.getElementById('c'));
chart.setOption({animation:false,backgroundColor:'#fff',grid:grids,xAxis:xAxes,yAxis:yAxes,series,legend:legends,graphic:{elements:graphics}});
</script></body></html>
